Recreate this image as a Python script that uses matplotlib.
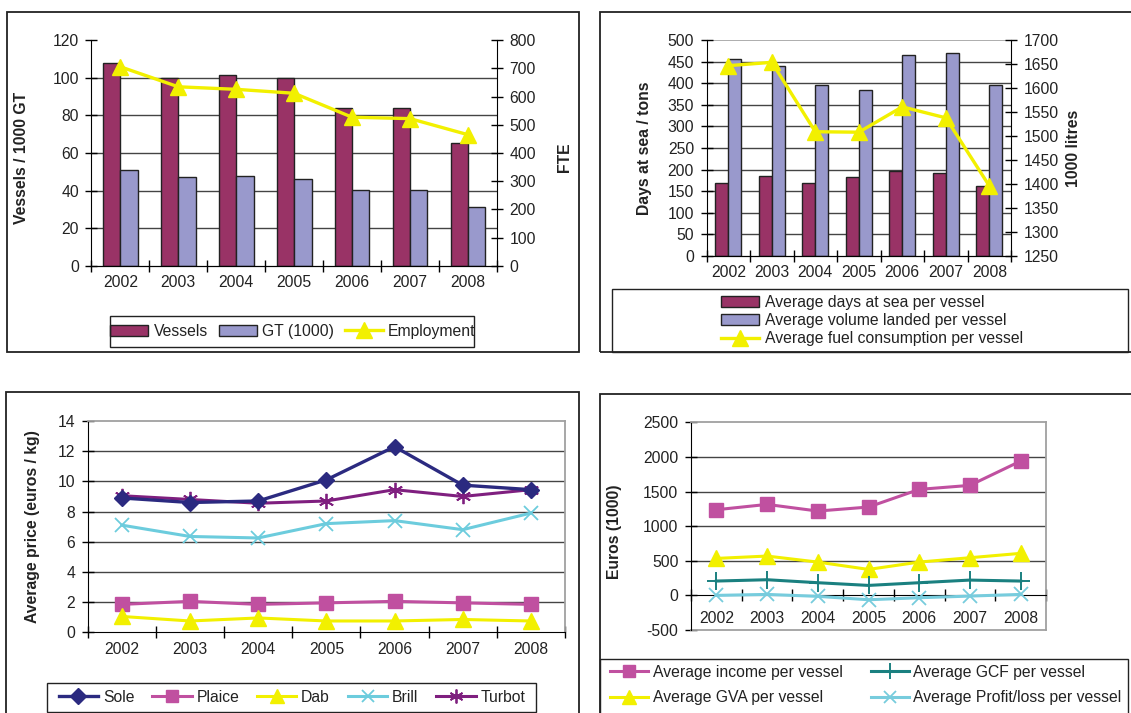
import numpy as np
import matplotlib
matplotlib.use('Agg')
import matplotlib.pyplot as plt
from matplotlib.patches import Rectangle, Patch
from matplotlib.lines import Line2D

plt.rcParams['font.family'] = ['Liberation Sans', 'DejaVu Sans']
plt.rcParams['font.size'] = 11.3
plt.rcParams['text.color'] = '#222222'
plt.rcParams['axes.unicode_minus'] = False

years = ['2002', '2003', '2004', '2005', '2006', '2007', '2008']

# fleet / employment
vessels = [108, 100, 101.7, 100, 84, 84, 65.3]
gt_1000 = [51, 47, 48, 46.2, 40.3, 40.3, 31]
employment = [706, 635, 626, 612, 527, 522, 465]

# effort
days_at_sea = [169.5, 186, 169.5, 182, 196, 192, 162.5]
volume_landed = [457, 440, 397, 385, 467, 470, 397]
fuel_use = [1647, 1654, 1509, 1508, 1561, 1538, 1396]

# prices (euros / kg)
sole = [8.9, 8.6, 8.7, 10.1, 12.3, 9.75, 9.45]
plaice = [1.85, 2.05, 1.85, 1.95, 2.05, 1.95, 1.85]
dab = [1.05, 0.75, 0.95, 0.75, 0.75, 0.85, 0.75]
brill = [7.1, 6.35, 6.25, 7.2, 7.4, 6.8, 7.9]
turbot = [9.05, 8.8, 8.55, 8.7, 9.45, 9.0, 9.45]

# economics (1000 euros)
income = [1237, 1314, 1218, 1276, 1531, 1589, 1940]
gcf = [207, 226, 183, 144, 183, 221, 207]
gva = [534, 568, 481, 375, 481, 544, 607]
profit = [0, 14, -14, -63, -34, -10, 14]

C_VES = '#993366'
C_GT = '#9999CC'
YEL = '#F2F000'
C_SOLE = '#2B2A80'
C_PLAICE = '#C050A0'
C_BRILL = '#6CCCDD'
C_TURBOT = '#7F1F7F'
C_GCF = '#1A8080'
C_PROFIT = '#77CCDD'
GRID = '#444444'
BORDER = '#A0A0A0'

W, H = 1131, 713
fig = plt.figure(figsize=(W / 100, H / 100), dpi=100)
fig.patch.set_facecolor('white')
x = np.arange(len(years))


def px_axes(l, t, r, b):
    return fig.add_axes([l / W, 1 - b / H, (r - l) / W, (b - t) / H])


def box(x0, y0, x1, y1, lw=1.3):
    fig.add_artist(Rectangle((x0 / W, 1 - y1 / H), (x1 - x0) / W, (y1 - y0) / H,
                             transform=fig.transFigure, fill=False,
                             ec='#222222', lw=lw, zorder=10))


def cat_axis(ax, labelpad=7):
    ax.set_xlim(-0.5, len(years) - 0.5)
    ax.set_xticks(np.arange(-0.5, len(years), 1))
    ax.set_xticklabels([])
    ax.set_xticks(x, minor=True)
    ax.set_xticklabels(years, minor=True)
    ax.tick_params(axis='x', which='major', direction='inout', length=8, width=1)
    ax.tick_params(axis='x', which='minor', length=0, pad=labelpad, labelcolor='#222222')


def y_style(ax):
    ax.tick_params(axis='y', direction='inout', length=8, width=1, pad=5,
                   labelcolor='#222222')


def hgrid(ax, vals, color=GRID):
    for v in vals:
        ax.axhline(v, color=color, lw=1, zorder=0.5)


# ---------------- top left: fleet ----------------
ax = px_axes(91.4, 40.3, 496.9, 265.7)
ax.bar(x - 0.15, vessels, 0.3, color=C_VES, edgecolor='#222222', lw=1, zorder=2)
ax.bar(x + 0.15, gt_1000, 0.3, color=C_GT, edgecolor='#222222', lw=1, zorder=2)
ax.set_ylim(0, 120)
ax.set_yticks(np.arange(0, 121, 20))
hgrid(ax, np.arange(20, 101, 20))
cat_axis(ax)
y_style(ax)
for s in ['top', 'right']:
    ax.spines[s].set_visible(False)
ax2 = ax.twinx()
ax2.plot(x, employment, color=YEL, lw=2.4, marker='^', ms=12, mec=YEL, zorder=3)
ax2.set_ylim(0, 800)
ax2.set_yticks(np.arange(0, 801, 100))
y_style(ax2)
ax2.spines['top'].set_visible(False)
ax2.spines['left'].set_visible(False)
fig.text(21.5 / W, 1 - 158 / H, 'Vessels / 1000 GT', rotation=90, ha='center', va='center',
         fontweight='bold')
fig.text(564 / W, 1 - 157 / H, 'FTE', rotation=90, ha='center', va='center', fontweight='bold')
box(7.4, 12, 579, 352)
box(110, 316, 473.5, 347, lw=1)
h1 = [Patch(fc=C_VES, ec='#222222'), Patch(fc=C_GT, ec='#222222'),
      Line2D([], [], color=YEL, lw=2.4, marker='^', ms=12)]
fig.legend(h1, ['Vessels', 'GT (1000)', 'Employment'], loc='center', ncol=3,
           bbox_to_anchor=(293 / W, 1 - 331 / H), frameon=False, handlelength=2.4,
           handletextpad=0.35, columnspacing=0.7, borderpad=0)

# ---------------- top right: effort ----------------
ax = px_axes(706.6, 40.3, 1011, 255.7)
ax.bar(x - 0.15, days_at_sea, 0.3, color=C_VES, edgecolor='#222222', lw=1, zorder=2)
ax.bar(x + 0.15, volume_landed, 0.3, color=C_GT, edgecolor='#222222', lw=1, zorder=2)
ax.set_ylim(0, 500)
ax.set_yticks(np.arange(0, 501, 50))
hgrid(ax, np.arange(50, 451, 50))
ax.axhline(500, color=BORDER, lw=1.2, zorder=0.5)
cat_axis(ax)
y_style(ax)
for s in ['top', 'right']:
    ax.spines[s].set_visible(False)
ax2 = ax.twinx()
ax2.plot(x, fuel_use, color=YEL, lw=2.4, marker='^', ms=12, mec=YEL, zorder=3)
ax2.set_ylim(1250, 1700)
ax2.set_yticks(np.arange(1250, 1701, 50))
y_style(ax2)
ax2.spines['top'].set_visible(False)
ax2.spines['left'].set_visible(False)
fig.text(644.5 / W, 1 - 148 / H, 'Days at sea / tons', rotation=90, ha='center', va='center',
         fontweight='bold')
fig.text(1073 / W, 1 - 148 / H, '1000 litres', rotation=90, ha='center', va='center',
         fontweight='bold')
box(599.7, 12, 1140, 352)
box(612.4, 289, 1128, 352, lw=1)
h2 = [Patch(fc=C_VES, ec='#222222'), Patch(fc=C_GT, ec='#222222'),
      Line2D([], [], color=YEL, lw=2.4, marker='^', ms=12)]
fig.legend(h2, ['Average days at sea per vessel', 'Average volume landed per vessel',
                'Average fuel consumption per vessel'],
           loc='center', ncol=1, bbox_to_anchor=(872 / W, 1 - 320.5 / H), frameon=False,
           handlelength=2.4, handletextpad=0.4, labelspacing=0.2, borderpad=0)

# ---------------- bottom left: prices ----------------
ax = px_axes(87.7, 421, 565, 632.3)
ax.plot(x, sole, color=C_SOLE, lw=2.4, marker='D', ms=8, zorder=5)
ax.plot(x, plaice, color=C_PLAICE, lw=2.2, marker='s', ms=10, zorder=4)
ax.plot(x, dab, color=YEL, lw=2.2, marker='^', ms=11, zorder=4)
ax.plot(x, brill, color=C_BRILL, lw=2.2, marker='x', ms=10, mew=1.3, zorder=4)
ax.plot(x, turbot, color=C_TURBOT, lw=2.2, marker=(6, 2, 0), ms=11, mew=1.3, zorder=4)
ax.set_ylim(0, 14)
ax.set_yticks(np.arange(0, 15, 2))
hgrid(ax, np.arange(2, 13, 2))
cat_axis(ax)
y_style(ax)
ax.spines['top'].set_color(BORDER)
ax.spines['right'].set_color(BORDER)
ax.spines['top'].set_linewidth(1.3)
ax.spines['right'].set_linewidth(1.3)
fig.text(33 / W, 1 - 527 / H, 'Average price (euros / kg)', rotation=90, ha='center',
         va='center', fontweight='bold')
box(6, 392, 579, 716)
box(47.4, 683, 536.4, 712, lw=1)
h3 = [Line2D([], [], color=C_SOLE, lw=2.4, marker='D', ms=8),
      Line2D([], [], color=C_PLAICE, lw=2.2, marker='s', ms=9),
      Line2D([], [], color=YEL, lw=2.2, marker='^', ms=10),
      Line2D([], [], color=C_BRILL, lw=2.2, marker='x', ms=9, mew=1.3),
      Line2D([], [], color=C_TURBOT, lw=2.2, marker=(6, 2, 0), ms=10, mew=1.3)]
fig.legend(h3, ['Sole', 'Plaice', 'Dab', 'Brill', 'Turbot'], loc='center', ncol=5,
           bbox_to_anchor=(292 / W, 1 - 697 / H), frameon=False, handlelength=2.5,
           handletextpad=0.3, columnspacing=1.15, borderpad=0)

# ---------------- bottom right: economics ----------------
ax = px_axes(691, 422.3, 1046, 630)
ax.plot(x, income, color=C_PLAICE, lw=2.2, marker='s', ms=10, zorder=5)
ax.plot(x, gva, color=YEL, lw=2.2, marker='^', ms=12, zorder=4)
ax.plot(x, gcf, color=C_GCF, lw=2.2, marker='+', ms=13, mew=1.4, zorder=4)
ax.plot(x, profit, color=C_PROFIT, lw=2.2, marker='x', ms=10, mew=1.3, zorder=4)
ax.set_ylim(-500, 2500)
ax.set_yticks(np.arange(-500, 2501, 500))
hgrid(ax, np.arange(500, 2001, 500))
cat_axis(ax, labelpad=11)
y_style(ax)
ax.spines['bottom'].set_position(('data', 0))
ax.spines['top'].set_color(BORDER)
ax.spines['right'].set_color(BORDER)
ax.spines['top'].set_linewidth(1.3)
ax.spines['right'].set_linewidth(1.3)
ax.plot([0, 1], [0, 0], transform=ax.transAxes, color=BORDER, lw=1.3, clip_on=False)
fig.text(614 / W, 1 - 531.7 / H, 'Euros (1000)', rotation=90, ha='center', va='center',
         fontweight='bold')
box(599.7, 394, 1140, 716)
box(599.7, 658.7, 1128, 716, lw=1)
h4 = [Line2D([], [], color=C_PLAICE, lw=2.2, marker='s', ms=9),
      Line2D([], [], color=YEL, lw=2.2, marker='^', ms=10),
      Line2D([], [], color=C_GCF, lw=2.2, marker='+', ms=12, mew=1.4),
      Line2D([], [], color=C_PROFIT, lw=2.2, marker='x', ms=9, mew=1.3)]
fig.legend(h4, ['Average income per vessel', 'Average GVA per vessel',
                'Average GCF per vessel', 'Average Profit/loss per vessel'],
           loc='center', ncol=2, bbox_to_anchor=(866 / W, 1 - 685 / H), frameon=False,
           handlelength=2.4, handletextpad=0.3, columnspacing=1.8, labelspacing=0.7,
           borderpad=0)

fig.savefig('out.png', dpi=100)
